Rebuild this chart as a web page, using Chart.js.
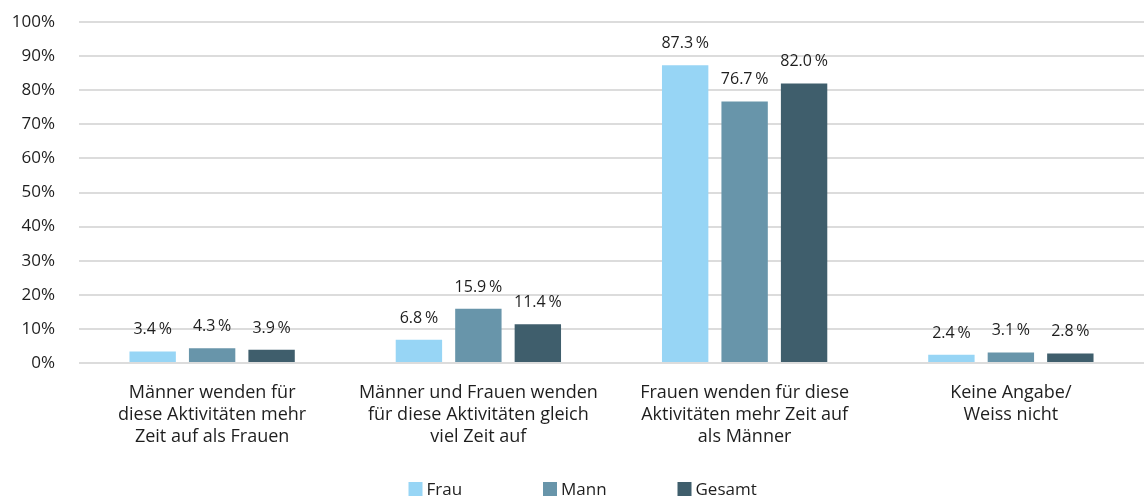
<!DOCTYPE html>
<html>
<head>
<meta charset="utf-8">
<script src="https://cdn.jsdelivr.net/npm/chart.js@4"></script>
<style>
  body { margin: 0; background: #fff; }
  #wrap { width: 1144px; height: 498px; }
</style>
</head>
<body>
<div id="wrap"><canvas id="bar-chart"></canvas></div>
<script>
const categories = [
    ['Männer wenden für', 'diese Aktivitäten mehr', 'Zeit auf als Frauen'],
    ['Männer und Frauen wenden', 'für diese Aktivitäten gleich', 'viel Zeit auf'],
    ['Frauen wenden für diese', 'Aktivitäten mehr Zeit auf', 'als Männer'],
    ['Keine Angabe/', 'Weiss nicht']
];
const frau = [3.4, 6.8, 87.3, 2.4];
const mann = [4.3, 15.9, 76.7, 3.1];
const gesamt = [3.9, 11.4, 82.0, 2.8];
const yTicks = [0, 10, 20, 30, 40, 50, 60, 70, 80, 90, 100];

const fontFamily = "'Open Sans', 'Noto Sans', sans-serif";
const textColor = '#1e1e1e';

/* value labels above bars */
const valueLabels = {
    id: 'valueLabels',
    afterDatasetsDraw(chart) {
        const c = chart.ctx;
        c.save();
        c.font = '16px ' + fontFamily;
        c.fillStyle = textColor;
        c.textAlign = 'center';
        c.textBaseline = 'alphabetic';
        chart.data.datasets.forEach((ds, i) => {
            chart.getDatasetMeta(i).data.forEach((bar, j) => {
                c.fillText(ds.data[j].toFixed(1) + '\u2009%', bar.x, bar.y - 17);
            });
        });
        c.restore();
    }
};

/* legend with fixed slots at the bottom */
const bottomLegend = {
    id: 'bottomLegend',
    afterDraw(chart) {
        const c = chart.ctx;
        const slot = 134.5;
        const cx = chart.width / 2;
        c.save();
        c.font = '17px ' + fontFamily;
        c.textBaseline = 'middle';
        chart.data.datasets.forEach((ds, i) => {
            const x = cx + (i - 1) * slot - 29;
            c.fillStyle = ds.backgroundColor;
            c.fillRect(x, 482, 14, 14);
            c.fillStyle = textColor;
            c.fillText(ds.label, x + 18, 490);
        });
        c.restore();
    }
};

const ctx = document.getElementById('bar-chart');

new Chart(ctx, {
    type: 'bar',
    data: {
        labels: categories,
        datasets: [
            { label: 'Frau', data: frau, backgroundColor: '#97d5f5' },
            { label: 'Mann', data: mann, backgroundColor: '#6895aa' },
            { label: 'Gesamt', data: gesamt, backgroundColor: '#3f5e6c' }
        ]
    },
    options: {
        responsive: true,
        maintainAspectRatio: false,
        animation: false,
        layout: { padding: { top: 22, right: 0, bottom: 0, left: 0 } },
        datasets: {
            bar: { categoryPercentage: 0.67, barPercentage: 0.78 }
        },
        scales: {
            x: {
                afterFit(scale) { scale.height = 135; },
                grid: { display: false, drawTicks: false },
                border: { display: false },
                ticks: {
                    color: textColor,
                    font: { family: fontFamily, size: 18, lineHeight: 1.22 },
                    maxRotation: 0,
                    padding: 19
                }
            },
            y: {
                min: 0,
                max: 100,
                afterBuildTicks(scale) {
                    scale.ticks = yTicks.map(v => ({ value: v }));
                },
                afterFit(scale) {
                    scale.width = 79;
                    scale.paddingTop = 0;
                    scale.paddingBottom = 0;
                },
                grid: { color: '#dcdcdc', lineWidth: 2, drawTicks: false },
                border: { display: false },
                ticks: {
                    color: textColor,
                    font: { family: fontFamily, size: 17 },
                    padding: 24,
                    callback: v => v + '%'
                }
            }
        },
        plugins: {
            legend: { display: false },
            tooltip: { enabled: false }
        }
    },
    plugins: [valueLabels, bottomLegend]
});
</script>
</body>
</html>
